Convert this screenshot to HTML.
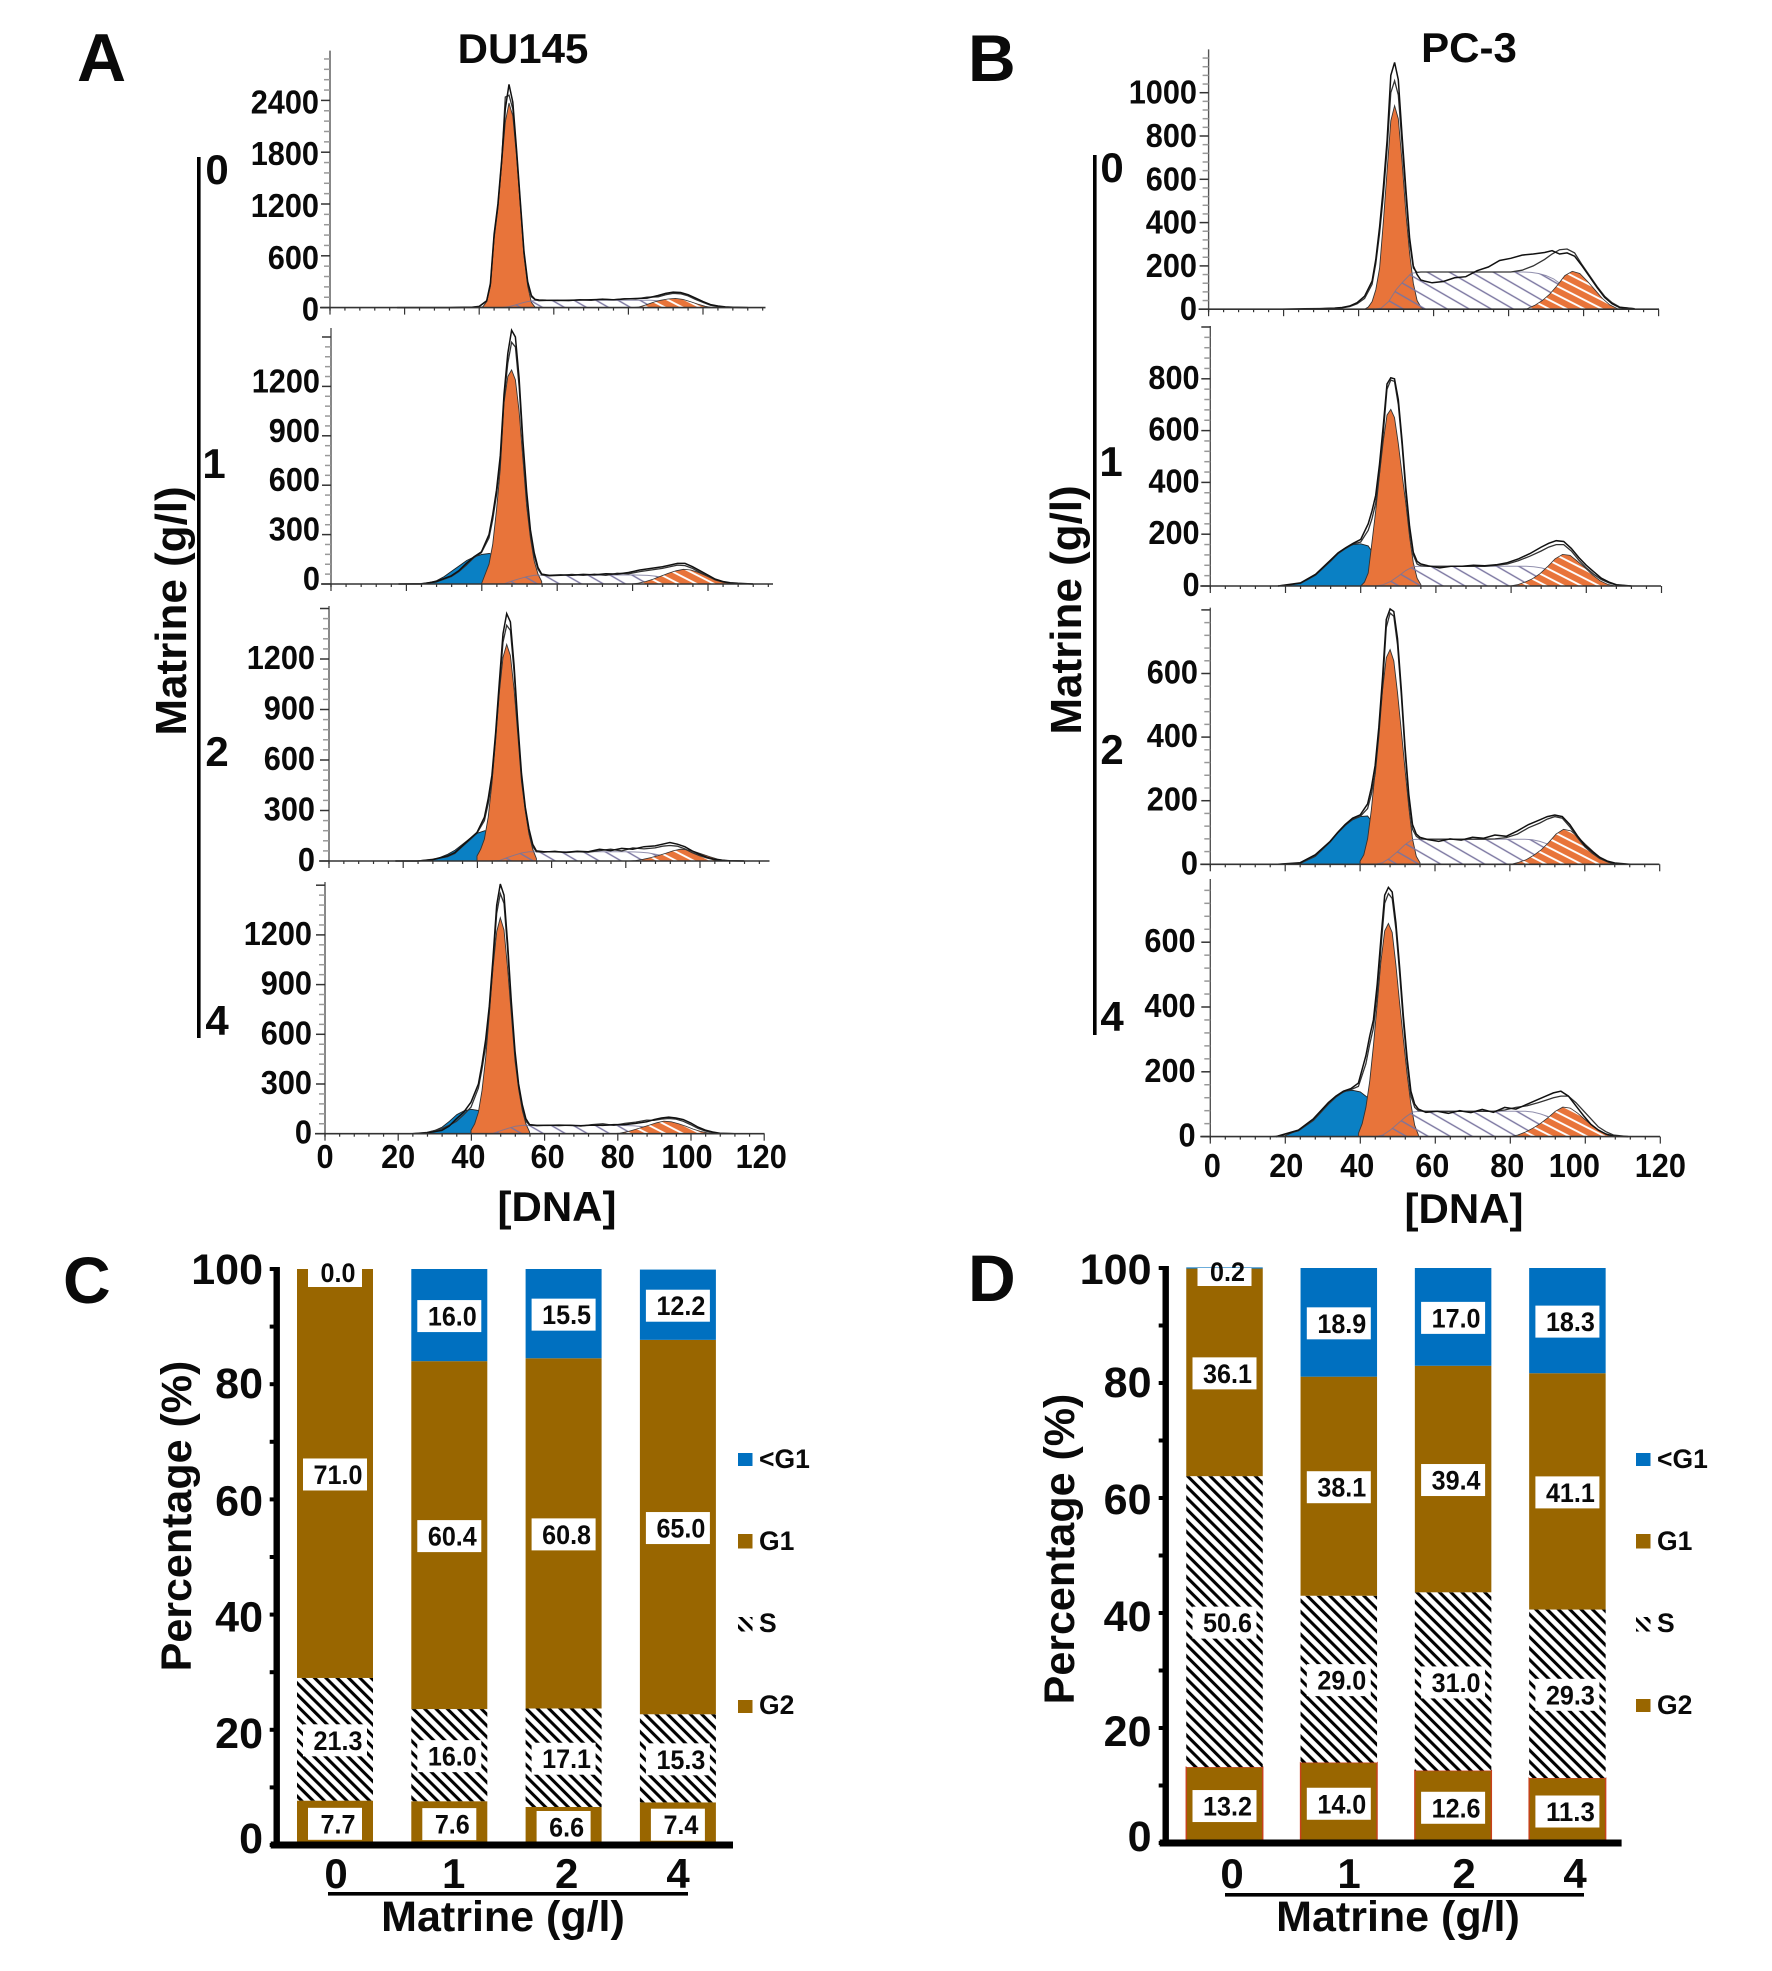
<!DOCTYPE html>
<html lang="en">
<head>
<meta charset="utf-8">
<title>Matrine cell cycle figure</title>
<style>
html,body{margin:0;padding:0;background:#fff;}
svg{display:block;}
text{font-family:"Liberation Sans",Arial,sans-serif;font-weight:bold;fill:#0a0a0a;}
</style>
</head>
<body>
<svg id="fig" xmlns="http://www.w3.org/2000/svg" width="1772" height="1971" viewBox="0 0 1772 1971">
<defs>
<pattern id="sHatch" patternUnits="userSpaceOnUse" width="11" height="11" patternTransform="rotate(-60)"><line x1="5" y1="0" x2="5" y2="11" stroke="#79749f" stroke-width="1.4"/></pattern>
<pattern id="g2Hatch" patternUnits="userSpaceOnUse" width="8" height="8" patternTransform="rotate(-63)"><line x1="4" y1="0" x2="4" y2="8" stroke="#fff" stroke-width="1.9"/></pattern>
<pattern id="barHatch" patternUnits="userSpaceOnUse" width="8" height="8" patternTransform="rotate(-45)"><rect width="8" height="8" fill="#fff"/><line x1="4" y1="0" x2="4" y2="8" stroke="#000" stroke-width="3.1"/></pattern>
</defs>
<rect width="1772" height="1971" fill="#fff"/>

<text x="77" y="81" font-size="68">A</text>
<text x="968" y="81" font-size="66">B</text>
<text x="63" y="1303" font-size="66">C</text>
<text x="968" y="1301" font-size="66">D</text>
<text x="523" y="63" font-size="42" text-anchor="middle">DU145</text>
<text x="1469" y="62" font-size="42" text-anchor="middle">PC-3</text>

<text transform="translate(186,611) rotate(-90)" font-size="44" text-anchor="middle">Matrine (g/l)</text>
<text transform="translate(1081,610) rotate(-90)" font-size="44" text-anchor="middle">Matrine (g/l)</text>
<rect x="197" y="157" width="3.6" height="881" fill="#000"/>
<rect x="1093" y="155" width="3.6" height="880" fill="#000"/>
<text x="217" y="184" font-size="42" text-anchor="middle">0</text>
<text x="214" y="478" font-size="42" text-anchor="middle">1</text>
<text x="217" y="766" font-size="42" text-anchor="middle">2</text>
<text x="217" y="1035" font-size="42" text-anchor="middle">4</text>
<text x="1112" y="182" font-size="42" text-anchor="middle">0</text>
<text x="1111" y="476" font-size="42" text-anchor="middle">1</text>
<text x="1112" y="764" font-size="42" text-anchor="middle">2</text>
<text x="1112" y="1031" font-size="42" text-anchor="middle">4</text>
<text x="557" y="1221" font-size="42" text-anchor="middle">[DNA]</text>
<text x="1464" y="1223" font-size="42" text-anchor="middle">[DNA]</text>

<text transform="translate(191,1516) rotate(-90)" font-size="43" text-anchor="middle">Percentage (%)</text>
<text transform="translate(1074,1549) rotate(-90)" font-size="43" text-anchor="middle">Percentage (%)</text>
<text x="503" y="1931" font-size="43" text-anchor="middle">Matrine (g/l)</text>
<text x="1398" y="1931" font-size="43" text-anchor="middle">Matrine (g/l)</text>
<rect x="328" y="1892" width="360" height="3.6" fill="#000"/>
<rect x="1225" y="1893" width="359" height="3.6" fill="#000"/>

<g>
<rect x="738" y="1453" width="14.5" height="13" fill="#0070c0"/>
<text x="759" y="1468" font-size="26.5">&lt;G1</text>
<rect x="738" y="1534" width="14.5" height="14.5" fill="#996600"/>
<text x="759" y="1550" font-size="26.5">G1</text>
<rect x="738" y="1617" width="14.5" height="14.5" fill="url(#barHatch)"/>
<text x="759" y="1632" font-size="26.5">S</text>
<rect x="738" y="1700" width="14.5" height="13" fill="#996600"/>
<text x="759" y="1714" font-size="26.5">G2</text>
</g>
<g>
<rect x="1636" y="1453" width="14.5" height="13" fill="#0070c0"/>
<text x="1657" y="1468" font-size="26.5">&lt;G1</text>
<rect x="1636" y="1534" width="14.5" height="14.5" fill="#996600"/>
<text x="1657" y="1550" font-size="26.5">G1</text>
<rect x="1636" y="1617" width="14.5" height="14.5" fill="url(#barHatch)"/>
<text x="1657" y="1632" font-size="26.5">S</text>
<rect x="1636" y="1699" width="14.5" height="13" fill="#996600"/>
<text x="1657" y="1714" font-size="26.5">G2</text>
</g>
</svg>

<script>
// ---------- Histogram sample positions (DNA units / offsets from the peak) ----------
const g1Offsets = [-8,-7,-6,-5,-4,-3,-2,-1,0,1,2,3,4,5,6,7,8];
const g2Offsets = [-14,-12,-10,-8,-6,-4,-2,0,2,4,6,8,10,12,14];
const blueDna = [16,20,24,26,28,30,32,34,36,38,40,42,44,46,48,50,52];
const sDna = [44,46,48,50,52,54,56,60,70,80,84,86,88,90,92,94,96,98,100,104];
const totalOffsets = [-30,-24,-20,-16,-14,-12,-10,-8,-6,-5,-4,-3,-2,-1,0,1,2,3,4,5,6,7,8,10,13,16,19,22,25,28,31,34,37,40,42,44,46,48,50,52,54,56,58,60,64];
const xTicks = [0,20,40,60,80,100,120];

// ---------- Y tick labels ----------
const A0_ticks = [0,600,1200,1800,2400];
const A1_ticks = [0,300,600,900,1200];
const A2_ticks = [0,300,600,900,1200];
const A4_ticks = [0,300,600,900,1200];
const B0_ticks = [0,200,400,600,800,1000];
const B1_ticks = [0,200,400,600,800];
const B2_ticks = [0,200,400,600];
const B4_ticks = [0,200,400,600];

// ---------- DU145, dose 0 ----------
const A0_g1 = [0,10,70,250,800,1150,1650,2150,2370,2220,1760,1200,600,250,60,5,0];
const A0_blue = [0,0,0,0,0,0,0,0,0,0,0,0,0,0,0,0,0];
const A0_s = [0,0,12,35,60,78,85,85,85,85,85,85,80,70,55,40,25,12,5,0];
const A0_g2 = [0,0,5,30,60,85,100,106,95,70,40,15,0,0,0];
const A0_t1 = [0,0,0,0,2,3,5,14,80,280,850,1200,1700,2300,2585,2380,1840,1250,650,300,140,95,88,85,82,85,88,90,95,92,100,105,110,140,165,180,175,150,110,70,35,18,8,3,0];
const A0_t2 = [0,0,0,0,0,2,4,12,75,260,820,1170,1680,2440,2460,2300,1800,1220,620,280,125,90,80,82,86,80,92,84,100,90,104,100,120,125,150,165,160,135,95,60,28,12,5,2,0];

// ---------- DU145, dose 1 ----------
const A1_g1 = [0,60,120,240,450,700,1100,1260,1300,1240,1050,760,470,280,140,60,15];
const A1_blue = [0,0,0,8,20,45,77,110,143,165,180,185,170,120,50,10,0];
const A1_s = [0,2,18,32,45,53,53,53,53,55,52,48,40,32,22,14,8,4,2,0];
const A1_g2 = [0,5,15,30,48,65,80,89,85,70,50,30,15,5,0];
const A1_t1 = [0,0,15,50,80,125,165,195,300,420,570,780,1150,1400,1541,1500,1250,870,560,330,190,100,60,52,55,53,58,55,62,60,70,85,95,105,115,125,125,105,80,55,30,15,8,4,0];
const A1_t2 = [0,2,12,45,75,115,160,190,280,390,540,740,1120,1340,1468,1440,1200,830,530,305,170,90,55,50,52,58,52,60,52,65,62,75,85,95,105,115,112,95,70,48,25,12,6,3,0];

// ---------- DU145, dose 2 ----------
const A2_g1 = [30,70,130,260,460,720,1000,1210,1287,1220,1020,750,470,300,160,70,15];
const A2_blue = [0,0,0,0,10,22,40,65,100,135,165,180,170,120,50,10,0];
const A2_s = [0,3,20,35,48,55,55,55,55,55,52,48,40,32,22,14,8,4,2,0];
const A2_g2 = [0,3,10,20,32,45,60,70,66,55,40,25,12,4,0];
const A2_t1 = [0,0,8,30,50,90,130,170,260,370,510,760,1060,1350,1470,1420,1160,820,520,320,190,100,60,55,55,52,58,55,70,62,75,70,85,90,100,110,100,85,60,40,22,10,5,2,0];
const A2_t2 = [0,0,10,25,45,85,125,165,240,340,480,730,1020,1300,1400,1370,1120,790,500,305,170,85,55,52,58,50,55,52,62,70,60,78,72,78,88,92,88,72,50,32,18,8,4,1,0];

// ---------- DU145, dose 4 ----------
const A4_g1 = [20,60,130,260,460,720,1000,1220,1304,1230,1000,720,440,270,140,60,10];
const A4_blue = [0,0,0,0,8,20,40,75,115,138,147,140,100,50,10,0,0];
const A4_s = [0,3,18,32,45,50,50,50,50,50,48,44,38,30,20,12,7,3,1,0];
const A4_g2 = [0,3,12,25,38,52,66,76,72,60,45,28,14,5,0];
const A4_t1 = [0,0,5,20,45,90,130,190,300,420,570,770,1060,1380,1507,1440,1150,800,500,300,175,90,55,50,50,52,50,48,52,50,55,55,62,72,85,95,100,95,85,65,40,22,10,3,0];
const A4_t2 = [0,0,8,30,50,75,115,160,275,390,530,740,1020,1330,1450,1390,1110,770,480,285,155,75,52,48,52,48,52,46,55,60,50,62,70,82,80,88,92,88,75,55,32,16,7,2,0];

// ---------- PC-3, dose 0 ----------
const B0_g1 = [0,10,35,90,190,400,640,870,940,880,680,450,260,120,40,10,0];
const B0_blue = [0,0,0,0,0,0,0,0,0,0,0,0,0,0,0,0,0];
const B0_s = [0,5,35,90,130,165,172,172,172,172,172,170,165,155,140,115,85,55,30,5];
const B0_g2 = [0,3,18,40,70,110,155,175,165,130,90,50,20,3,0];
const B0_t1 = [0,2,3,5,8,15,30,60,130,230,380,560,780,1080,1140,1060,800,560,330,200,160,135,130,122,128,145,150,178,195,225,235,250,255,262,270,255,260,245,200,150,100,55,25,8,2];
const B0_t2 = [0,0,2,5,6,12,25,50,115,210,350,520,740,1000,1055,990,760,530,310,190,170,172,172,172,172,172,172,172,172,172,172,180,200,230,255,275,278,260,205,155,105,60,30,10,2];

// ---------- PC-3, dose 1 ----------
const B1_g1 = [0,15,50,170,290,430,560,660,682,650,550,430,320,190,90,30,5];
const B1_blue = [0,0,12,25,45,70,100,128,148,160,163,155,110,60,25,5,0];
const B1_s = [0,5,18,38,60,75,76,76,76,76,76,74,70,62,50,38,26,16,8,0];
const B1_g2 = [0,5,15,28,48,75,105,122,118,95,70,42,20,6,0];
const B1_t1 = [0,12,45,100,128,148,165,180,240,290,350,470,620,780,804,800,720,560,380,230,130,95,85,78,70,76,76,80,78,82,90,105,125,150,165,175,172,145,110,80,55,30,15,5,0];
const B1_t2 = [0,10,42,96,125,145,162,170,215,260,320,440,590,760,795,790,700,540,360,215,120,85,78,76,76,76,76,76,76,80,85,98,115,135,150,160,160,135,100,70,45,25,12,4,0];

// ---------- PC-3, dose 2 ----------
const B2_g1 = [10,30,80,170,290,420,550,650,675,640,540,420,300,180,80,25,5];
const B2_blue = [0,0,5,15,28,48,72,98,122,140,150,152,120,70,25,5,0];
const B2_s = [0,5,20,40,62,78,79,79,79,79,79,77,72,64,52,40,28,18,9,0];
const B2_g2 = [0,6,14,28,45,68,95,110,105,85,62,40,20,6,0];
const B2_t1 = [0,5,30,72,100,125,145,155,190,240,310,430,590,770,803,795,710,550,370,220,125,95,85,78,72,80,76,85,82,92,88,105,125,140,150,155,150,125,90,60,40,22,10,4,0];
const B2_t2 = [0,3,25,70,98,122,142,150,175,220,285,405,560,745,790,780,690,530,355,205,110,88,80,79,79,79,79,79,79,80,84,95,115,130,142,150,145,118,85,55,35,18,8,2,0];

// ---------- PC-3, dose 4 ----------
const B4_g1 = [10,40,90,170,280,410,540,635,658,630,530,410,300,190,100,35,5];
const B4_blue = [0,3,22,38,60,85,110,128,140,143,138,120,85,45,15,3,0];
const B4_s = [0,5,20,40,60,76,78,78,78,78,78,76,70,62,50,38,26,16,8,0];
const B4_g2 = [0,5,14,26,40,58,78,91,88,72,52,32,16,5,0];
const B4_t1 = [0,20,55,105,125,140,148,165,250,310,360,470,610,745,769,755,660,520,370,240,140,100,85,75,78,72,80,74,84,75,90,85,100,115,125,135,140,125,95,65,38,20,8,2,0];
const B4_t2 = [0,18,50,100,122,138,145,155,225,285,335,440,580,720,750,735,640,500,350,225,125,90,80,78,78,78,78,78,78,78,82,90,95,105,112,120,125,125,105,80,55,30,15,5,0];

// ---------- Stacked bars ----------
const doseCategories = ['0','1','2','4'];
const percentTicks = [0,20,40,60,80,100];
const C_g2 = [7.7,7.6,6.6,7.4];
const C_s = [21.3,16.0,17.1,15.3];
const C_g1 = [71.0,60.4,60.8,65.0];
const C_subG1 = [0.0,16.0,15.5,12.2];
const D_g2 = [13.2,14.0,12.6,11.3];
const D_s = [50.6,29.0,31.0,29.3];
const D_g1 = [36.1,38.1,39.4,41.1];
const D_subG1 = [0.2,18.9,17.0,18.3];

// ---------- Drawing ----------
const fig = document.getElementById('fig');
const NS = 'http://www.w3.org/2000/svg';

function add(parent, tag, name, attrs, content) {
  const el = document.createElementNS(NS, tag);
  
  
  for (const k in attrs) el.setAttribute(k, attrs[k]);
  if (content !== undefined) el.textContent = content;
  parent.appendChild(el);
  return el;
}

// Condensed numeric label width (em widths of Liberation Sans Bold digits / point).
function condensedWidth(text, size) {
  let em = 0;
  for (const ch of text) em += ch === '.' ? 0.278 : 0.556;
  return (em * size * 0.93).toFixed(1);
}

const histograms = [
  {id:'a-dose-0',axisX:330,base:307.6,top:50.6,xEnd:765.5,pxX:3.73,pxY:0.08633,center:48.0,g2Center:92.6,labelRight:319,labelDy:13,ticks:A0_ticks,g1:A0_g1,blue:A0_blue,s:A0_s,g2:A0_g2,t1:A0_t1,t2:A0_t2,xLabels:false},
  {id:'a-dose-1',axisX:331,base:584,top:328,xEnd:773,pxX:3.77,pxY:0.16467,center:47.9,g2Center:93.5,labelRight:320,labelDy:6,ticks:A1_ticks,g1:A1_g1,blue:A1_blue,s:A1_s,g2:A1_g2,t1:A1_t1,t2:A1_t2,xLabels:false},
  {id:'a-dose-2',axisX:329,base:861,top:606,xEnd:769.5,pxX:3.71,pxY:0.16833,center:47.9,g2Center:94.7,labelRight:315,labelDy:10,ticks:A2_ticks,g1:A2_g1,blue:A2_blue,s:A2_s,g2:A2_g2,t1:A2_t1,t2:A2_t2,xLabels:false},
  {id:'a-dose-4',axisX:325,base:1133.7,top:882,xEnd:764.5,pxX:3.66,pxY:0.16567,center:47.9,g2Center:92.6,labelRight:312,labelDy:10,ticks:A4_ticks,g1:A4_g1,blue:A4_blue,s:A4_s,g2:A4_g2,t1:A4_t1,t2:A4_t2,xLabels:true,xLabelY:1168,xNudge:[0,0,-3,3,0,-4,-3]},
  {id:'b-dose-0',axisX:1208.6,base:309.2,top:49.4,xEnd:1659,pxX:3.75,pxY:0.2165,center:49.6,g2Center:97,labelRight:1197,labelDy:11,ticks:B0_ticks,g1:B0_g1,blue:B0_blue,s:B0_s,g2:B0_g2,t1:B0_t1,t2:B0_t2,xLabels:false},
  {id:'b-dose-1',axisX:1210.3,base:586,top:326,xEnd:1661,pxX:3.76,pxY:0.259,center:48,g2Center:93.7,labelRight:1199.6,labelDy:10,ticks:B1_ticks,g1:B1_g1,blue:B1_blue,s:B1_s,g2:B1_g2,t1:B1_t1,t2:B1_t2,xLabels:false},
  {id:'b-dose-2',axisX:1210.3,base:864.3,top:607.6,xEnd:1659.4,pxX:3.745,pxY:0.318,center:48,g2Center:94.3,labelRight:1198,labelDy:10,ticks:B2_ticks,g1:B2_g1,blue:B2_blue,s:B2_s,g2:B2_g2,t1:B2_t1,t2:B2_t2,xLabels:false},
  {id:'b-dose-4',axisX:1210.3,base:1136.6,top:879,xEnd:1660,pxX:3.75,pxY:0.324,center:47.5,g2Center:94,labelRight:1195.6,labelDy:10,ticks:B4_ticks,g1:B4_g1,blue:B4_blue,s:B4_s,g2:B4_g2,t1:B4_t1,t2:B4_t2,xLabels:true,xLabelY:1177,xNudge:[2,1,-3,-3,-3,-11,0]}
];

function drawHistogram(p) {
  const g = add(fig, 'g', 'histogram-' + p.id, {});
  const xs = v => p.axisX + v * p.pxX;
  const ys = c => p.base - c * p.pxY;
  const line = (dna, counts) => dna.map((d, i) => xs(d).toFixed(1) + ',' + ys(counts[i]).toFixed(1)).join(' L');
  const area = (dna, counts) => 'M' + xs(dna[0]).toFixed(1) + ',' + p.base + ' L' + line(dna, counts) + ' L' + xs(dna[dna.length - 1]).toFixed(1) + ',' + p.base + ' Z';
  const g1Dna = g1Offsets.map(o => p.center + o);
  const g2Dna = g2Offsets.map(o => p.g2Center + o);
  const totalDna = totalOffsets.map(o => p.center + o);

  add(g, 'path', 's-phase-base', {d: area(sDna, p.s), fill: '#fff', stroke: 'none'});
  if (Math.max.apply(null, p.blue) > 0) {
    add(g, 'path', 'subg1-peak', {d: area(blueDna, p.blue), fill: '#0a80c4', stroke: '#222', 'stroke-width': 0.9});
  }
  add(g, 'path', 'g1-peak', {d: area(g1Dna, p.g1), fill: '#e8743a', stroke: '#333', 'stroke-width': 0.9});
  add(g, 'path', 's-phase-hatch', {d: area(sDna, p.s), fill: 'url(#sHatch)', stroke: '#77749a', 'stroke-width': 1, 'stroke-opacity': 0.8});
  add(g, 'path', 'g2-peak', {d: area(g2Dna, p.g2), fill: '#e8743a', stroke: 'none'});
  add(g, 'path', 'g2-peak-hatch', {d: area(g2Dna, p.g2), fill: 'url(#g2Hatch)', stroke: '#333', 'stroke-width': 0.8});
  add(g, 'path', 'total-curve-fit', {d: 'M' + line(totalDna, p.t2), fill: 'none', stroke: '#333', 'stroke-width': 1.3});
  add(g, 'path', 'total-curve-data', {d: 'M' + line(totalDna, p.t1), fill: 'none', stroke: '#111', 'stroke-width': 1.5});

  add(g, 'line', 'y-axis', {x1: p.axisX, x2: p.axisX, y1: p.top, y2: p.base + 3, stroke: '#555', 'stroke-width': 1.4});
  add(g, 'line', 'x-axis', {x1: p.axisX - 10, x2: p.xEnd, y1: p.base, y2: p.base, stroke: '#333', 'stroke-width': 1.6});

  const major = p.ticks[1];
  for (let v = 0; ys(v) >= p.top; v += major / 5) {
    const isMajor = Math.abs(v / major - Math.round(v / major)) < 1e-6;
    add(g, 'line', 'y-tick', {x1: p.axisX - (isMajor ? 9 : 6), x2: p.axisX, y1: ys(v), y2: ys(v), stroke: isMajor ? '#333' : '#999', 'stroke-width': 1.5});
  }
  for (let d = 0; xs(d) <= p.xEnd + 0.5; d += 4) {
    const isMajor = d % 20 === 0;
    add(g, 'line', 'x-tick', {x1: xs(d), x2: xs(d), y1: p.base, y2: p.base + (isMajor ? 7 : 3), stroke: '#333', 'stroke-width': 1.2});
  }
  p.ticks.forEach(v => {
    const t = String(v);
    add(g, 'text', 'y-tick-label', {x: p.labelRight, y: ys(v) + p.labelDy, 'font-size': 33, 'text-anchor': 'end', textLength: condensedWidth(t, 33), lengthAdjust: 'spacingAndGlyphs'}, t);
  });
  if (p.xLabels) {
    xTicks.forEach((v, i) => {
      const t = String(v);
      add(g, 'text', 'x-tick-label', {x: xs(v) + p.xNudge[i], y: p.xLabelY, 'font-size': 33, 'text-anchor': 'middle', textLength: condensedWidth(t, 33), lengthAdjust: 'spacingAndGlyphs'}, t);
    });
  }
}
histograms.forEach(drawHistogram);

const barCharts = [
  {id:'c',axisX:276.7,y0:1845,pxY:5.76,firstCenter:335,step:114.3,barW:76,xEnd:733,axisBase:1845,labelRight:263,labelDy:[8,18,17,16,14,15],catX:[336,453.7,566.7,678],catY:1888,g2:C_g2,s:C_s,g1:C_g1,sub:C_subG1,g2Stroke:'none'},
  {id:'d',axisX:1165.7,y0:1843,pxY:5.75,firstCenter:1224.5,step:114.3,barW:76.5,xEnd:1621.6,axisBase:1843,labelRight:1151.5,labelDy:[8,18,18,16,14,16],catX:[1232,1349,1464,1575],catY:1888,g2:D_g2,s:D_s,g1:D_g1,sub:D_subG1,g2Stroke:'#c8401c'}
];

function drawBars(c) {
  const g = add(fig, 'g', 'stacked-bar-chart-' + c.id, {});
  const ys = v => c.y0 - v * c.pxY;
  const cx = i => c.firstCenter + i * c.step;
  const series = [
    {key:'g2', vals:c.g2, fill:'#996600', stroke:c.g2Stroke},
    {key:'s', vals:c.s, fill:'url(#barHatch)', stroke:'none'},
    {key:'g1', vals:c.g1, fill:'#996600', stroke:'none'},
    {key:'subg1', vals:c.sub, fill:'#0070c0', stroke:'none'}
  ];
  const labels = [];
  doseCategories.forEach((cat, i) => {
    let cum = 0;
    series.forEach(s => {
      const v = s.vals[i];
      const yTop = ys(cum + v);
      const h = v * c.pxY;
      add(g, 'rect', 'bar-' + s.key + '-dose-' + cat, {x: cx(i) - c.barW / 2, y: yTop, width: c.barW, height: h, fill: s.fill, stroke: s.stroke, 'stroke-width': 1.4});
      labels.push({v: v, mid: ys(cum + v / 2), top: yTop, x: cx(i), key: s.key, cat: cat});
      cum += v;
    });
    add(g, 'text', 'x-tick-label', {x: c.catX[i], y: c.catY, 'font-size': 42, 'text-anchor': 'middle'}, cat);
  });
  labels.forEach(l => {
    const text = l.v.toFixed(1);
    const w = text.length > 3 ? 64 : 54;
    const small = l.v < 1;
    const h = small ? 18 : 32;
    const boxY = small ? ys(100) : l.mid + 1 - h / 2;
    add(g, 'rect', 'value-box-' + l.key + '-dose-' + l.cat, {x: l.x - w / 2, y: boxY, width: w, height: h, fill: '#fff'});
    add(g, 'text', 'value-label-' + l.key + '-dose-' + l.cat, {x: l.x + 3, y: small ? boxY + 13 : boxY + h / 2 + 9.5, 'font-size': 27, 'text-anchor': 'middle', textLength: condensedWidth(text, 27), lengthAdjust: 'spacingAndGlyphs'}, text);
  });
  add(g, 'rect', 'y-axis', {x: c.axisX - 3.2, y: ys(100) - 2, width: 6.4, height: c.axisBase - ys(100) + 5, fill: '#000'});
  add(g, 'rect', 'x-axis', {x: c.axisX - 6, y: c.axisBase - 3.5, width: c.xEnd - c.axisX + 6, height: 7, fill: '#000'});
  for (let v = 0; v <= 100; v += 10) {
    add(g, 'rect', 'y-tick', {x: c.axisX - 7, y: ys(v) - 2, width: 6, height: 4, fill: '#000'});
  }
  percentTicks.forEach((v, i) => {
    add(g, 'text', 'y-tick-label', {x: c.labelRight, y: ys(v) + c.labelDy[i], 'font-size': 43, 'text-anchor': 'end'}, String(v));
  });
}
barCharts.forEach(drawBars);
</script>
</body>
</html>
